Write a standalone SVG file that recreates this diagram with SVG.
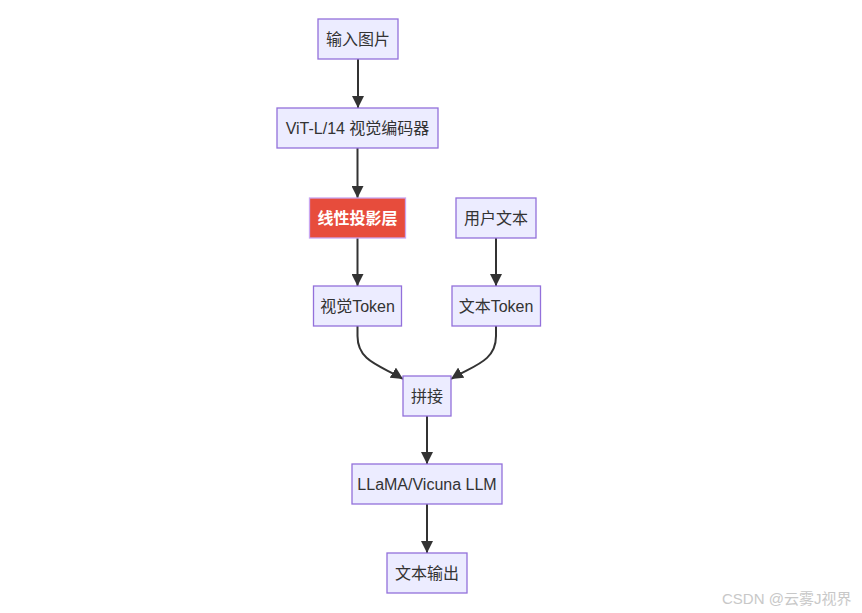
<svg xmlns="http://www.w3.org/2000/svg" width="862" height="613" viewBox="0 0 862 613">
<defs>
<style>
.n rect{fill:#ECECFF;stroke:#9370DB;stroke-width:1.3}
.n text{font-family:"Liberation Sans","Noto Sans CJK SC",sans-serif;font-size:16px;fill:#333;text-anchor:middle;dominant-baseline:central}
#proj rect{fill:#E74C3C;stroke:#C9A6F0}
#proj text{fill:#fff;font-weight:bold}
.e path{fill:none;stroke:#333;stroke-width:2}
.wm{font-family:"Liberation Sans","Noto Sans CJK SC",sans-serif;font-size:15px;fill:#c8c8c8}
</style>
<marker id="ah" viewBox="0 0 10 10" refX="10" refY="5" markerWidth="6" markerHeight="6" markerUnits="strokeWidth" orient="auto">
<path d="M0,0 L10,5 L0,10 z" fill="#333"/>
</marker>
</defs>
<rect width="862" height="613" fill="#fff"/>
<g id="edges" class="e">
<path d="M358,59 L358,108" marker-end="url(#ah)"/>
<path d="M357.5,148 L357.5,198" marker-end="url(#ah)"/>
<path d="M357.5,238 L357.5,286" marker-end="url(#ah)"/>
<path d="M496,238 L496,286" marker-end="url(#ah)"/>
<path d="M357.5,326 L357.5,336 C357.5,362 382,366 403,379" marker-end="url(#ah)"/>
<path d="M496,326 L496,336 C496,362 472,366 451,379" marker-end="url(#ah)"/>
<path d="M427,416 L427,464" marker-end="url(#ah)"/>
<path d="M427,504 L427,553" marker-end="url(#ah)"/>
</g>
<g id="input" class="n"><rect x="318" y="19" width="80" height="40"/><text x="358" y="39">输入图片</text></g>
<g id="vit" class="n"><rect x="277" y="108" width="161" height="40"/><text x="357.5" y="128">ViT-L/14 视觉编码器</text></g>
<g id="proj" class="n"><rect x="309.5" y="198" width="96" height="40"/><text x="357.5" y="218">线性投影层</text></g>
<g id="usertext" class="n"><rect x="456" y="198" width="80" height="40"/><text x="496" y="218">用户文本</text></g>
<g id="vtoken" class="n"><rect x="313.5" y="286" width="88" height="40"/><text x="357.5" y="306">视觉Token</text></g>
<g id="ttoken" class="n"><rect x="452" y="286" width="88.5" height="40"/><text x="496" y="306">文本Token</text></g>
<g id="concat" class="n"><rect x="403" y="376" width="48" height="40"/><text x="427" y="396">拼接</text></g>
<g id="llm" class="n"><rect x="352" y="464" width="150" height="40"/><text x="427" y="484">LLaMA/Vicuna LLM</text></g>
<g id="output" class="n"><rect x="387" y="553" width="80" height="40"/><text x="427" y="573">文本输出</text></g>
<text class="wm" x="722" y="604">CSDN @云雾J视界</text>
</svg>
